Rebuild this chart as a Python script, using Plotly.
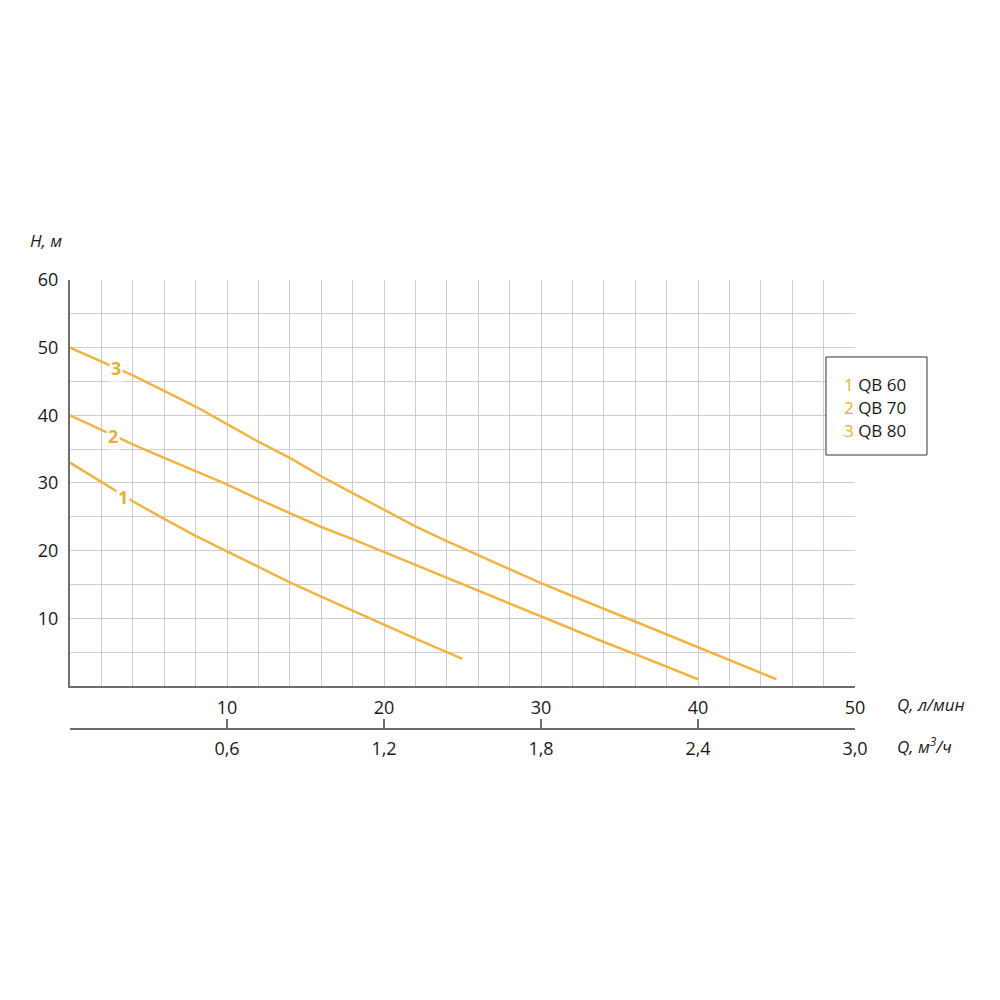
import plotly.graph_objects as go

# Data
q3 = [0, 2, 4, 6, 8, 10, 12, 14, 16, 18, 20, 22, 24, 26, 28, 30, 32, 34, 36, 38, 40, 42, 44, 45]
h3 = [50, 48.0, 45.9, 43.6, 41.3, 38.7, 36.1, 33.7, 31.0, 28.5, 26.0, 23.6, 21.4, 19.3, 17.2, 15.2, 13.3, 11.4, 9.6, 7.7, 5.8, 3.9, 2.0, 1.0]

q2 = [0, 2, 4, 6, 8, 10, 12, 14, 16, 18, 20, 22, 24, 26, 28, 30, 32, 34, 36, 38, 40]
h2 = [40, 37.8, 35.7, 33.7, 31.8, 29.8, 27.6, 25.5, 23.5, 21.7, 19.8, 17.9, 15.9, 14.0, 12.1, 10.2, 8.3, 6.5, 4.7, 2.9, 1.0]

q1 = [0, 2, 4, 6, 8, 10, 12, 14, 16, 18, 20, 22, 24, 25]
h1 = [33, 30.2, 27.3, 24.7, 22.2, 19.9, 17.6, 15.3, 13.2, 11.1, 9.0, 7.0, 5.0, 4.0]

series_names = ["1", "2", "3"]
legend_models = ["QB 60", "QB 70", "QB 80"]
label_pos = [(3.4, 28.0), (2.75, 36.9), (2.9, 47.0)]

x_tickvals = [10, 20, 30, 40, 50]
x_ticktext = ["10", "20", "30", "40", "50"]
y_tickvals = [10, 20, 30, 40, 50, 60]
y_ticktext = ["10", "20", "30", "40", "50", "60"]
m3_tickvals = [0, 0.6, 1.2, 1.8, 2.4, 3.0]
m3_ticktext = ["", "0,6", "1,2", "1,8", "2,4", "3,0"]

LINE = "#EFB443"
LABEL = "#E8AE3A"
GRID = "#CDCDCD"
AXIS = "#6E6E6E"
FONT = "Open Sans"
TXT = "#1a1a1a"

fig = go.Figure()
for q, h in [(q1, h1), (q2, h2), (q3, h3)]:
    fig.add_trace(go.Scatter(x=q, y=h, mode="lines", line=dict(color=LINE, width=2.5),
                             showlegend=False, hoverinfo="skip"))

# dummy trace for the secondary (m3/h) axis
fig.add_trace(go.Scatter(x=[0, 3], y=[None, None], xaxis="x2", yaxis="y", showlegend=False, hoverinfo="skip"))

for name, (qx, hy) in zip(series_names, label_pos):
    fig.add_annotation(x=qx, y=hy, text=f"<b>{name}</b>", showarrow=False, bgcolor="white", borderpad=1,
                       font=dict(family=FONT, size=18, color=LABEL))

# Legend box
fig.add_shape(type="rect", xref="paper", yref="paper", x0=0.963, x1=1.0917, y0=0.6354, y1=0.8396,
              line=dict(color="#333333", width=1), fillcolor="white")
for i, (name, model) in enumerate(zip(series_names, legend_models)):
    fig.add_annotation(xref="paper", yref="paper", x=0.984, y=0.7833 - i * 0.0479, xanchor="left", yanchor="middle",
                       text=f"<span style='color:{LABEL}'>{name}</span> {model}", showarrow=False,
                       font=dict(family=FONT, size=17, color=TXT))

# Axis titles
fig.add_annotation(xref="paper", yref="paper", x=-0.053, y=1.083, xanchor="left", yanchor="middle",
                   text="<i>H, м</i>", showarrow=False, font=dict(family=FONT, size=17, color=TXT))
fig.add_annotation(xref="paper", yref="paper", x=1.051, y=0.1146, xanchor="left", yanchor="middle",
                   text="<i>Q, л/мин</i>", showarrow=False, font=dict(family=FONT, size=17, color=TXT))
fig.add_annotation(xref="paper", yref="paper", x=1.051, y=0.0292, xanchor="left", yanchor="middle",
                   text="<i>Q, м<sup>3</sup>/ч</i>", showarrow=False, font=dict(family=FONT, size=17, color=TXT))

fig.update_layout(
    width=1000, height=1000,
    margin=dict(l=62, r=153, t=272, b=248),
    paper_bgcolor="white", plot_bgcolor="white",
    font=dict(family=FONT, size=18, color=TXT),
    xaxis=dict(range=[0, 50], tickvals=x_tickvals, ticktext=x_ticktext, showgrid=True, gridcolor=GRID, gridwidth=1,
               minor=dict(dtick=2, tick0=0, showgrid=True, gridcolor=GRID, gridwidth=1),
               showline=True, linecolor=AXIS, linewidth=2, zeroline=False, ticks="", ticklabelstandoff=4,
               anchor="y", fixedrange=True),
    yaxis=dict(range=[0, 60], domain=[0.1542, 1], tickvals=y_tickvals, ticktext=y_ticktext, showgrid=True,
               gridcolor=GRID, gridwidth=1,
               minor=dict(dtick=5, tick0=0, showgrid=True, gridcolor=GRID, gridwidth=1),
               showline=True, linecolor=AXIS, linewidth=2, zeroline=False, ticks="", ticklabelstandoff=6,
               fixedrange=True),
    xaxis2=dict(range=[0, 3], tickvals=m3_tickvals, ticktext=m3_ticktext, anchor="free", position=0.0646,
                overlaying="x", side="bottom", showline=True, linecolor=AXIS, linewidth=2, ticks="inside",
                ticklen=9, tickwidth=2, tickcolor=AXIS, showgrid=False, zeroline=False, ticklabelstandoff=3,
                fixedrange=True),
)

fig.write_html("out.html")
